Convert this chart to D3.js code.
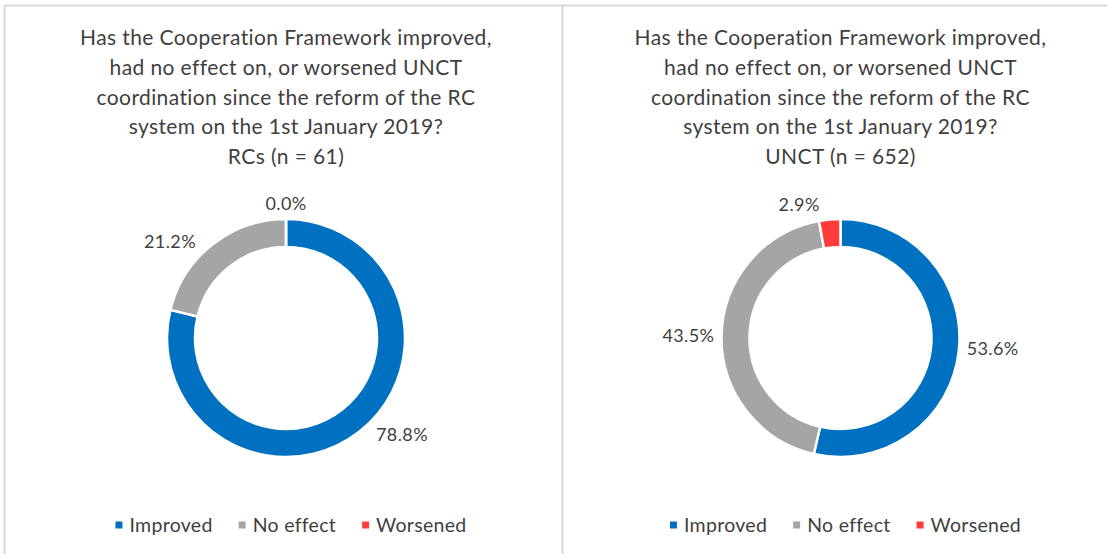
<!DOCTYPE html>
<html>
<head>
<meta charset="utf-8">
<script src="https://cdn.jsdelivr.net/npm/d3@7"></script>
<style>
  body { margin: 0; background: #fff; }
  text { font-family: "Lato", "Open Sans", sans-serif; fill: #3f3f3f; }
</style>
</head>
<body>
<svg id="chart"></svg>
<script>
// categories and values for the two doughnuts
var categories = ["Improved", "No effect", "Worsened"];
var rcValues = [78.8, 21.2, 0.0];
var unctValues = [53.6, 43.5, 2.9];
var titleLines = [
    "Has the Cooperation Framework improved,",
    "had no effect on, or worsened UNCT",
    "coordination since the reform of the RC",
    "system on the 1st January 2019?"
];
var groupLabels = ["RCs (n = 61)", "UNCT (n = 652)"];
var colors = ["#0070C0", "#A5A5A5", "#FF3B3B"];

var W = 1107, H = 554;

var svg = d3.select("svg#chart")
    .attr("width", W)
    .attr("height", H);

// panel frame lines
var frame = svg.append("g")
    .attr("stroke", "#d9d9d9")
    .attr("stroke-width", 2)
    .attr("fill", "none");
frame.append("line").attr("x1", 4).attr("x2", W).attr("y1", 5.5).attr("y2", 5.5);
frame.append("line").attr("x1", 4.5).attr("x2", 4.5).attr("y1", 5).attr("y2", H);
frame.append("line").attr("x1", 562.5).attr("x2", 562.5).attr("y1", 5).attr("y2", H);

var color = d3.scaleOrdinal().domain(categories).range(colors);

var panels = [
    {cx: 286, values: rcValues, sub: groupLabels[0]},
    {cx: 840.5, values: unctValues, sub: groupLabels[1]}
];

var cy = 338, outerR = 119, innerR = 91;

var pie = d3.pie()
    .sort(null)
    .value(function(d){ return d.value; });

var arc = d3.arc()
    .innerRadius(innerR)
    .outerRadius(outerR);

panels.forEach(function(p){
    var g = svg.append("g");

    // title
    var lines = titleLines.concat([p.sub]);
    g.selectAll("text.title")
        .data(lines)
        .enter()
        .append("text")
        .attr("class", "title")
        .attr("x", p.cx)
        .attr("y", function(d, i){ return 45 + i * 29.8; })
        .attr("text-anchor", "middle")
        .style("font-size", "21px")
        .style("letter-spacing", "0.4px")
        .text(function(d){ return d; });

    var data = categories.map(function(c, i){ return {cat: c, value: p.values[i]}; });
    var arcs = pie(data);

    var donut = g.append("g")
        .attr("transform", "translate(" + p.cx + "," + cy + ")");

    donut.selectAll("path")
        .data(arcs)
        .enter()
        .append("path")
        .attr("d", arc)
        .attr("fill", function(d){ return color(d.data.cat); })
        .attr("stroke", "#fff")
        .attr("stroke-width", 2.5);

    // labels outside the ring, pulled a bit towards horizontal like Excel's best fit
    donut.selectAll("text.lbl")
        .data(arcs)
        .enter()
        .append("text")
        .attr("class", "lbl")
        .attr("text-anchor", "middle")
        .attr("dy", "0.35em")
        .style("font-size", "18px")
        .style("letter-spacing", "0.4px")
        .text(function(d){ return d.data.value.toFixed(1) + "%"; })
        .each(function(d){
            var w = this.getComputedTextLength(), h = 16;
            var a = (d.startAngle + d.endAngle) / 2;
            if (d.data.value > 0) {
                var side = a < Math.PI ? Math.PI / 2 : 3 * Math.PI / 2;
                var diff = side - a;
                var maxPull = 12 * Math.PI / 180;
                var pull = maxPull * Math.min(1, Math.abs(diff) / (30 * Math.PI / 180));
                a += Math.sign(diff) * Math.min(Math.abs(diff), pull);
            }
            var s = Math.sin(a), c = Math.cos(a);
            var r = outerR + 7 + (w / 2) * Math.abs(s) + (h / 2) * Math.abs(c);
            d3.select(this)
                .attr("x", r * s)
                .attr("y", -r * c);
        });

    // legend
    var leg = g.append("g").attr("class", "legend");
    var x = 0;
    categories.forEach(function(c){
        var item = leg.append("g").attr("transform", "translate(" + x + ",0)");
        item.append("rect")
            .attr("x", 0).attr("y", -3.5)
            .attr("width", 7).attr("height", 7)
            .attr("fill", color(c));
        var t = item.append("text")
            .attr("x", 14)
            .attr("dy", "0.35em")
            .style("font-size", "19.5px")
            .style("letter-spacing", "0.3px")
            .text(c);
        x += 14 + t.node().getComputedTextLength() + 26;
    });
    var legW = x - 26;
    leg.attr("transform", "translate(" + (p.cx + 5 - legW / 2) + ",525)");
});
</script>
</body>
</html>
